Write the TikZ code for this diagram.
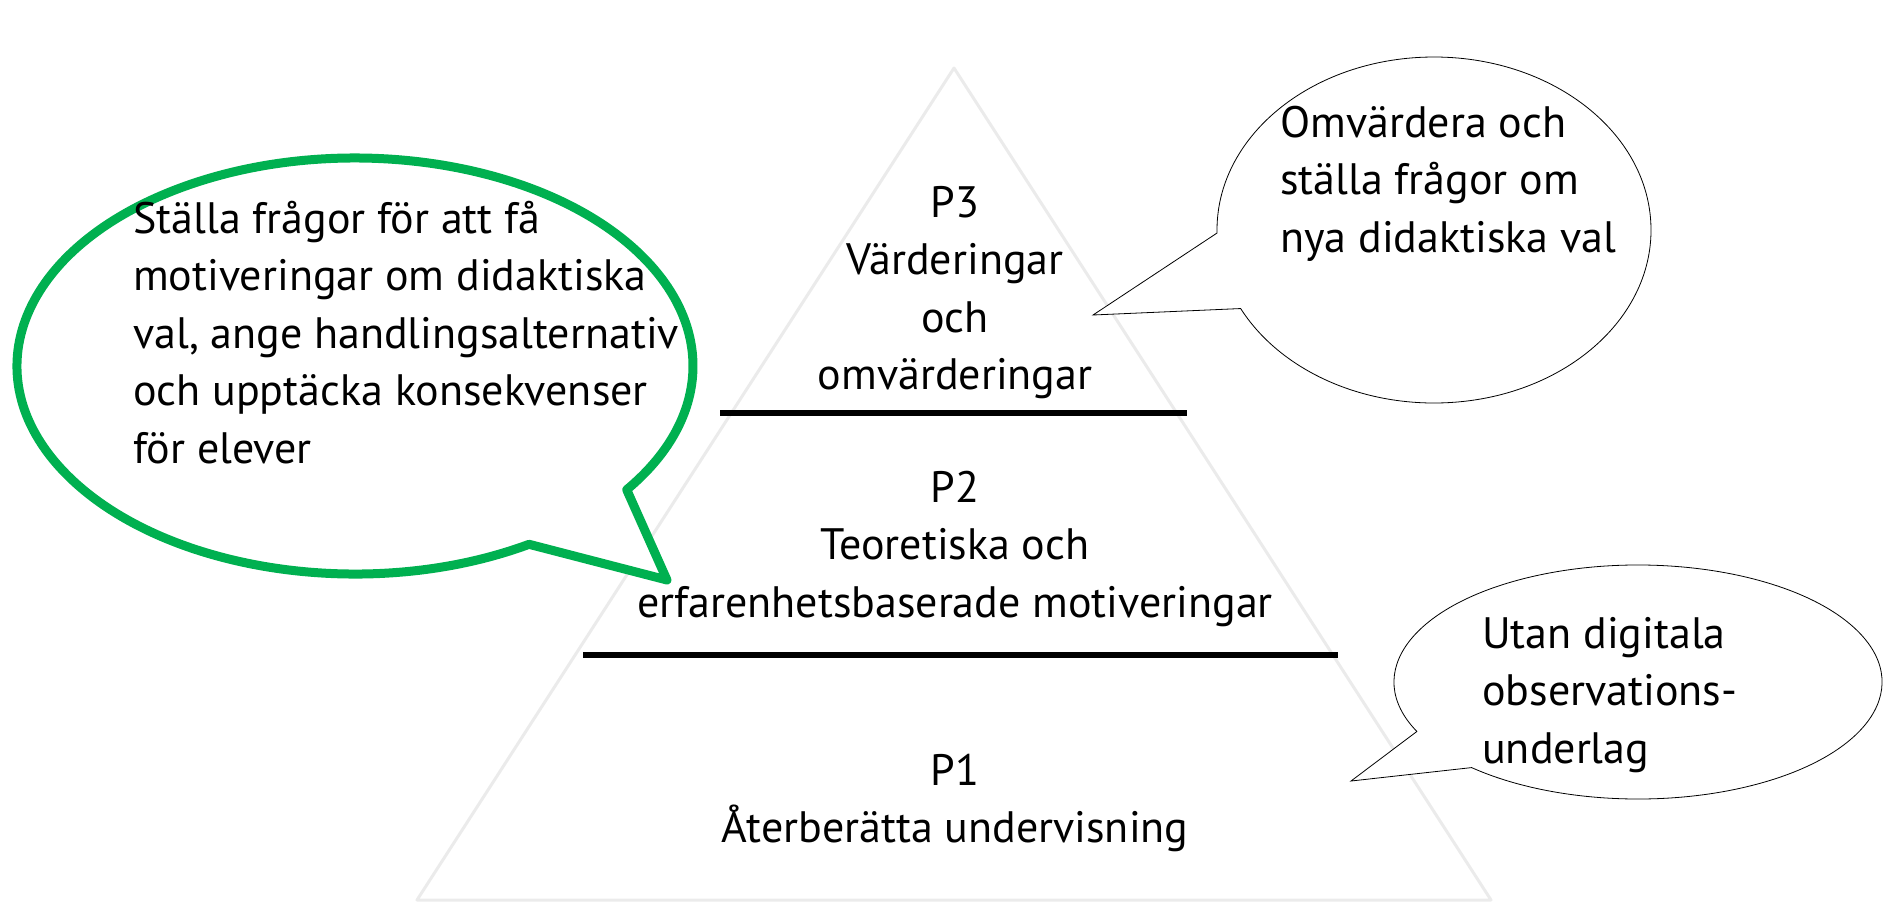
\documentclass[tikz,border=0pt]{standalone}
\usepackage{fontspec}
\setmainfont{PT Sans}
\definecolor{calloutgreen}{RGB}{0,176,80}
\tikzset{
  level text/.style={font=\fontsize{44}{57.5}\selectfont, inner sep=0pt, align=center, anchor=north},
  bubble text/.style={font=\fontsize{44}{57.5}\selectfont, inner sep=0pt, align=left, anchor=north west},
  level line/.style={line width=6pt},
  bubble/.style={draw=black, line width=0.8pt, fill=white, line join=miter},
  green bubble/.style={draw=calloutgreen, line width=9pt, fill=white, line join=round}
}
\begin{document}
\begin{tikzpicture}[x=1pt,y=-1pt]
  \useasboundingbox (0,0) rectangle (1886,906);

  % Define the corners of the pyramid
  \coordinate (T) at (954,68);
  \coordinate (L) at (417,900);
  \coordinate (R) at (1491,900);

  % Draw the faint outline of the pyramid
  \draw[black!8, line width=3pt, line join=round] (T) -- (L) -- (R) -- cycle;

  % Left callout with the green outline (ellipse centre and pointer tip)
  \coordinate (gc) at (355,366);
  \coordinate (gtip) at (667,580);
  \draw[green bubble] ([shift={(59:338 and 208)}]gc)
    arc[start angle=59, end angle=396.5, x radius=338, y radius=208] -- (gtip) -- cycle;

  % Upper right callout
  \coordinate (uc) at (1434,230);
  \coordinate (utip) at (1093,315);
  \draw[bubble] ([shift={(179:217 and 173)}]uc)
    arc[start angle=179, end angle=513, x radius=217, y radius=173] -- (utip) -- cycle;

  % Lower right callout
  \coordinate (lc) at (1638,682);
  \coordinate (ltip) at (1351,781);
  \draw[bubble] ([shift={(155:244 and 117)}]lc)
    arc[start angle=155, end angle=493, x radius=244, y radius=117] -- (ltip) -- cycle;

  % Draw the two lines between the levels
  \coordinate (A1) at (720,413);
  \coordinate (B1) at (1187,413);
  \coordinate (A2) at (583,655);
  \coordinate (B2) at (1338,655);
  \draw[level line] (A1) -- (B1);
  \draw[level line] (A2) -- (B2);

  % Texts of the three levels
  \node[level text] (p3) at (955,176.75) {\strut P3\\Värderingar\\och\\omvärderingar};
  \node[level text] (p2) at (955,461.75) {\strut P2\\Teoretiska och\\erfarenhetsbaserade motiveringar};
  \node[level text] (p1) at (955,744.75) {\strut P1\\Återberätta undervisning};

  % Texts inside the callouts
  \node[bubble text] (gtext) at (133,192.75) {\strut Ställa frågor för att få\\motiveringar om didaktiska\\val, ange handlingsalternativ\\och upptäcka konsekvenser\\för elever};
  \node[bubble text] (utext) at (1280,96.75) {\strut Omvärdera och\\ställa frågor om\\nya didaktiska val};
  \node[bubble text] (ltext) at (1482,607.75) {\strut Utan digitala\\observations-\\underlag};

\end{tikzpicture}
\end{document}
